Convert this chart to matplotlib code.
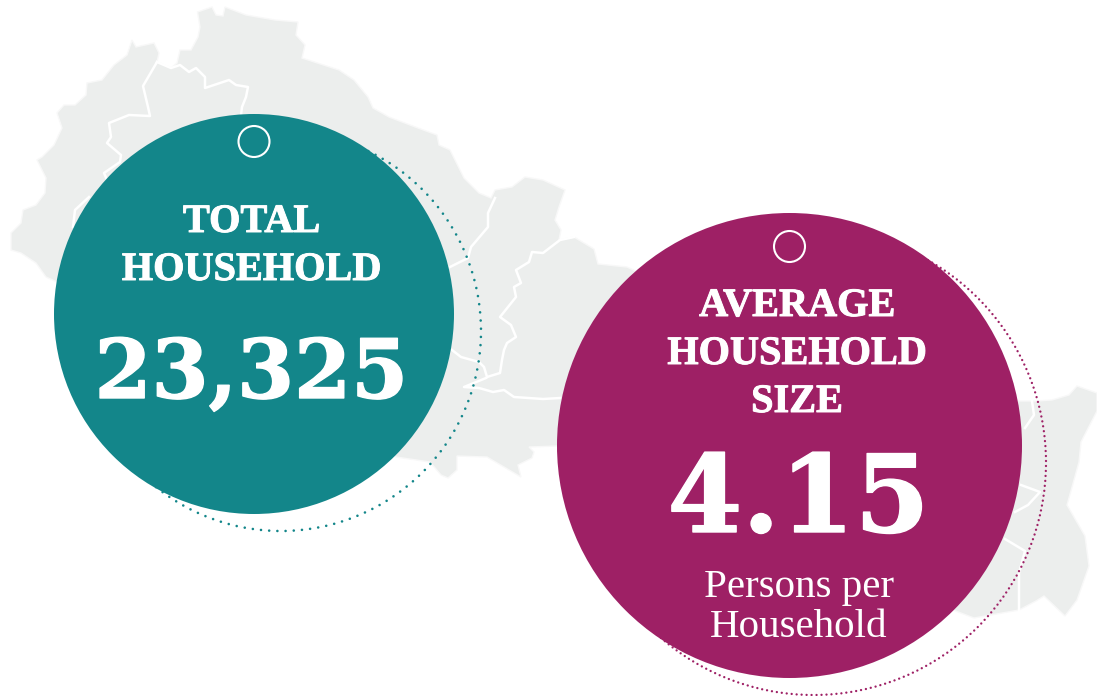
import matplotlib
matplotlib.use("Agg")
import matplotlib.pyplot as plt
from matplotlib.patches import Circle, Polygon
import matplotlib.patheffects as pe

# ---- content ----
metric_titles = [["TOTAL", "HOUSEHOLD"], ["AVERAGE", "HOUSEHOLD", "SIZE"]]
metric_values = ["23,325", "4.15"]
metric_notes = [[], ["Persons per", "Household"]]

TEAL = "#13868a"
PURPLE = "#9e2065"
GREY = "#eceeed"

# ---- map outline in image pixels ----
map_outline = [
    (11,250),(11,233),(21,223),(23,210),(36,205),(45,193),(46,178),(37,160),(42,157),(54,145),
    (62,128),(57,113),(64,105),(75,105),(86,95),(87,83),(102,80),(114,65),(127,55),(132,40),
    (136,47),(154,43),(159,53),(157,62),(171,68),(177,63),(180,50),(191,50),(198,37),(200,27),
    (197.5,12),(212,7),(216,15),(223,16),(225,7),(246,15),(275,20),(298,22),(296,35),(305,45),
    (302,58),(339,70),(354,80),(368,97),(373,108),(389,117),(418,128),(437,135),(439,145),(450,150),
    (464,178),(479,193),(491,198),(495,190),(512,187),(525,177),(543,180),(565,190),(559,207),(555,220),
    (561,230),(559,240),(574,237),(594,249),(598,264),(627,267),(700,300),(1019,401),(1036,401),(1052,400),
    (1069,395),(1077,386),(1097,393),(1097,411),(1081,442),(1079,462),(1067,505),(1085,536),(1089,566),(1077,600),
    (1065,616),(1044,596),(1036,601),(1019,610),(974,618),(953,610),(700,500),(557,446),(529,447),(534,452),
    (532,458),(518,465),(521,477),(487,457),(457,456),(457,470),(448,478),(441,475),(430,462),(396,457),
    (100,300),(57,282),(46,277),(36,263),(21,253),
]

district_lines = [
    [(157,62),(143,86),(148,107),(150,116),(129,115),(109,123),(111,137),(107,143),(121,155),(120,162),(104,173),(107,180)],
    [(89,197),(75,210),(73,227)],
    [(157,62),(171,68),(180,65),(189,72),(196,68),(205,77),(205,88),(229,80),(236,85),(248,87),(246,97),(242,107),(241,115)],
    [(495,198),(488,213),(488,227),(471,247),(468,258),(450,267)],
    [(574,237),(560,240),(543,253),(532,252),(529,262),(516,270),(521,283),(514,287),(516,297),(500,317),(511,325),(516,337),(507,343),(504,350),(502,360),(500,373),(487,377),(484,367),(479,362),(461,357),(452,350)],
    [(486,378),(464,387),(479,388),(493,392),(504,390),(514,397),(543,399),(560,398)],
    [(1032,401),(1034,415),(1025,428)],
    [(1021,485),(1040,492),(1028,505),(1015,512)],
    [(1005,539),(1025,551),(1019,573),(1019,610)],
]

# ---- figure ----
fig = plt.figure(figsize=(10.97, 6.96), dpi=100)
ax = fig.add_axes([0, 0, 1, 1])
ax.set_xlim(0, 1097)
ax.set_ylim(696, 0)
ax.axis("off")

ax.add_patch(Polygon(map_outline, closed=True, facecolor=GREY, edgecolor="#f8f8f8", linewidth=1.0, zorder=1))
for line in district_lines:
    xs, ys = zip(*line)
    ax.plot(xs, ys, color="white", linewidth=1.8, zorder=2, solid_joinstyle="round")

def badge(cx, cy, r, dx, dy, color, lw, gap):
    ax.add_patch(Circle((cx + dx, cy + dy), r, fill=False, edgecolor=color, linewidth=lw,
                        linestyle=(0, (0.01, gap)), capstyle="round", zorder=3))
    ax.add_patch(Circle((cx, cy), r, facecolor=color, edgecolor="none", zorder=4))

badge(254, 314, 200, 27, 17, TEAL, 1.9, 3.1)
badge(789.5, 445.5, 232.5, 24, 17, PURPLE, 1.7, 2.1)

ax.add_patch(Circle((254, 141.5), 15.5, fill=False, edgecolor="white", linewidth=1.5, zorder=5))
ax.add_patch(Circle((789.5, 246.5), 15.5, fill=False, edgecolor="white", linewidth=1.5, zorder=5))

head = dict(family="Liberation Serif", fontweight="bold", color="white", ha="center", va="baseline", zorder=6, fontsize=29,
            path_effects=[pe.withStroke(linewidth=0.7, foreground="white")])
big = dict(family="DejaVu Serif", fontweight="bold", color="white", ha="center", va="baseline", zorder=6,
           path_effects=[pe.withStroke(linewidth=1.0, foreground="white")])
note = dict(family="Liberation Serif", color="white", ha="center", va="baseline", zorder=6, fontsize=29.5)

for txt, y in zip(metric_titles[0], [232, 280]):
    ax.text(251.5, y, txt, **head)
ax.text(251.5, 398, metric_values[0], fontsize=59, **big)

for txt, y in zip(metric_titles[1], [316, 364, 412]):
    ax.text(797, y, txt, **head)
ax.text(798.5, 532, metric_values[1], fontsize=77.5, **big)
for txt, y in zip(metric_notes[1], [597, 637]):
    ax.text(799, y, txt, **note)

fig.savefig("out.png", dpi=100)
